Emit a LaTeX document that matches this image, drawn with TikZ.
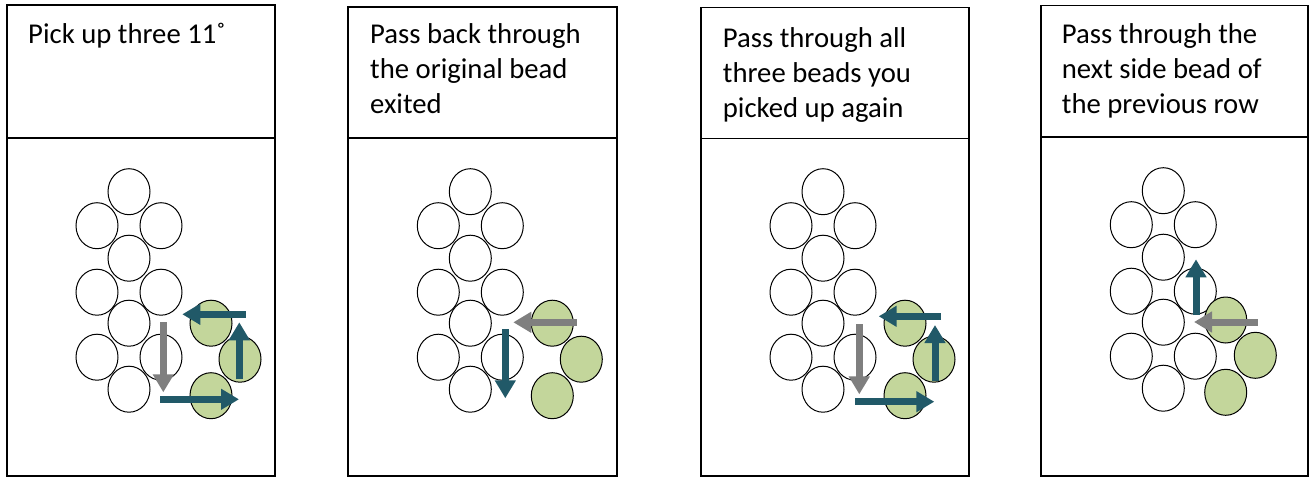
\documentclass[tikz,border=0pt]{standalone}
\usepackage{fontspec}
\setmainfont{Carlito}
\usetikzlibrary{arrows.meta}
\definecolor{beadgreen}{HTML}{C3D69B}
\definecolor{threadteal}{HTML}{215968}
\definecolor{threadgray}{HTML}{7F7F7F}
\tikzset{
	panel/.style={draw=black, line width=1.2pt},
	bead/.style={draw=black, line width=1pt, fill=white},
	newbead/.style={draw=black, line width=1pt, fill=beadgreen},
	thread/.style={line width=7pt, -{Triangle[width=20pt,length=18pt]}},
	tealthread/.style={thread, draw=threadteal},
	graythread/.style={thread, draw=threadgray},
	steptext/.style={anchor=base west, align=left, inner sep=0pt, font=\fontsize{28.7}{35}\selectfont}
}
\newcommand{\beadrows}{%
	\foreach \bx/\by in {0/0, -32/34, 32/34, 0/66.5, -32/100.5, 32/100.5, 0/131.5, -32/165.5, 32/165.5, 0/197.5}
		\draw[bead] (\bx,\by) ellipse [x radius=21, y radius=23];%
}

\begin{document}
\begin{tikzpicture}[x=1pt, y=-1pt]
		\useasboundingbox (0,0) rectangle (1310,477);

		\draw[panel] (7,5) rectangle (275,138);
		\draw[panel] (7,138) rectangle (275,476);
		\node[steptext] (stepA) at (28,43.3) {Pick up three 11˚};
		\begin{scope}[shift={(129,191.7)}]
			\beadrows
			\draw[newbead] (82,131.5) ellipse [x radius=21, y radius=23];
			\draw[newbead] (111,167.5) ellipse [x radius=21, y radius=23];
			\draw[newbead] (82,204) ellipse [x radius=21, y radius=23];
			\draw[graythread] (34.3,130.6) -- (34.3,200.6);
			\draw[tealthread] (116.7,122.6) -- (53.3,122.6);
			\draw[tealthread] (110.3,187.6) -- (110.3,130.6);
			\draw[tealthread] (31,207.6) -- (110,207.6);
		\end{scope}

		\draw[panel] (348,7) rectangle (617,138);
		\draw[panel] (348,138) rectangle (617,476);
		\node[steptext] (stepB) at (370,113.5) {Pass back through\\the original bead\\exited};
		\begin{scope}[shift={(470.3,191.7)}]
			\beadrows
			\draw[newbead] (82,131.5) ellipse [x radius=21, y radius=23];
			\draw[newbead] (111,167.5) ellipse [x radius=21, y radius=23];
			\draw[newbead] (82,204) ellipse [x radius=21, y radius=23];
			\draw[graythread] (106.4,130.6) -- (43,130.6);
			\draw[tealthread] (35,137.3) -- (35,206.6);
		\end{scope}

		\draw[panel] (701,7.3) rectangle (969,138.3);
		\draw[panel] (701,138.3) rectangle (969,476);
		\node[steptext] (stepC) at (722.7,117.5) {Pass through all\\three beads you\\picked up again};
		\begin{scope}[shift={(823,191.7)}]
			\beadrows
			\draw[newbead] (82,131.5) ellipse [x radius=21, y radius=23];
			\draw[newbead] (111,167.5) ellipse [x radius=21, y radius=23];
			\draw[newbead] (82,204) ellipse [x radius=21, y radius=23];
			\draw[tealthread] (118,124.6) -- (55.7,124.6);
			\draw[graythread] (36.3,132.6) -- (36.3,202.6);
			\draw[tealthread] (112,189) -- (112,133.3);
			\draw[tealthread] (32.3,210) -- (111.3,210);
		\end{scope}

		\draw[panel] (1041,5.7) rectangle (1308,137);
		\draw[panel] (1041,137) rectangle (1308,476);
		\node[steptext] (stepD) at (1061.7,113.3) {Pass through the\\next side bead of\\the previous row};
		\begin{scope}[shift={(1163.3,190.7)}]
			\beadrows
			\draw[newbead] (62.4,129.3) ellipse [x radius=21, y radius=23];
			\draw[newbead] (92,164.6) ellipse [x radius=21, y radius=23];
			\draw[newbead] (62.4,201.6) ellipse [x radius=21, y radius=23];
			\draw[tealthread] (32.7,124.3) -- (32.7,68.6);
			\draw[graythread] (94.4,131.3) -- (30.7,131.3);
		\end{scope}

	\end{tikzpicture}
\end{document}
